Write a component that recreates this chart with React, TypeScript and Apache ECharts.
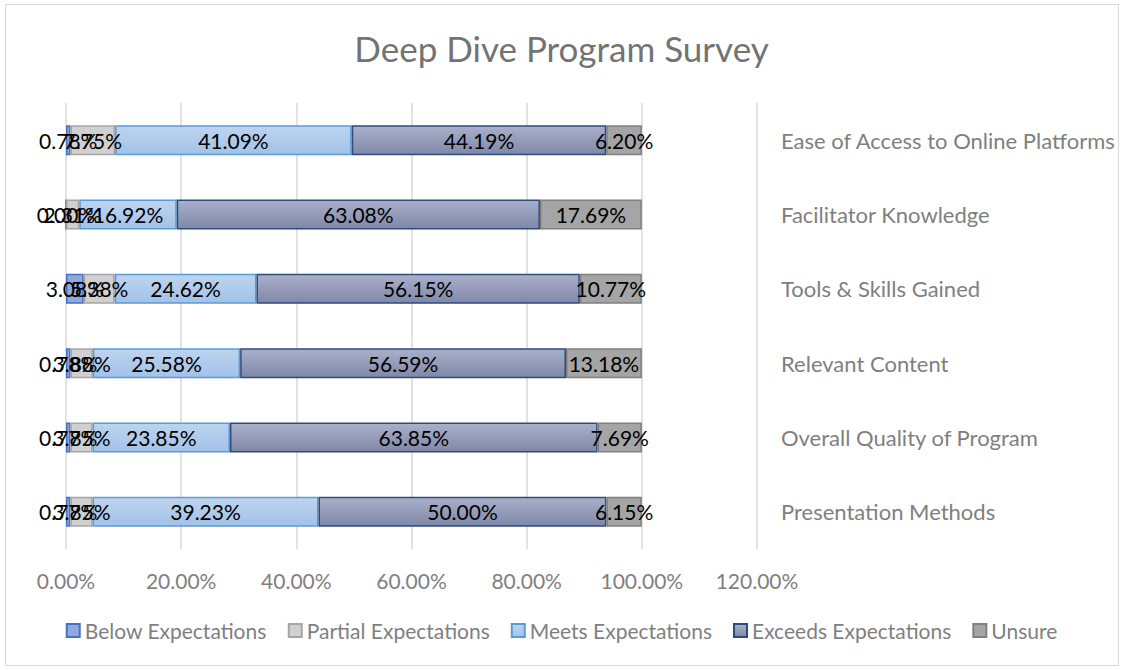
import React, { useEffect, useRef } from "react";
import * as echarts from "echarts";

// Categories listed bottom-to-top (ECharts category axis starts at the bottom)
const categories = [
  "Presentation Methods",
  "Overall Quality of Program",
  "Relevant Content",
  "Tools & Skills Gained",
  "Facilitator Knowledge",
  "Ease of Access to Online Platforms",
];

const belowExpectations = [0.77, 0.77, 0.78, 3.08, 0.0, 0.78];
const partialExpectations = [3.85, 3.85, 3.88, 5.38, 2.31, 7.75];
const meetsExpectations = [39.23, 23.85, 25.58, 24.62, 16.92, 41.09];
const exceedsExpectations = [50.0, 63.85, 56.59, 56.15, 63.08, 44.19];
const unsure = [6.15, 7.69, 13.18, 10.77, 17.69, 6.2];

const xTicks = { min: 0, max: 120, interval: 20 };

const FONT = "Lato, 'Liberation Sans', sans-serif";

export default function App() {
  const ref = useRef<HTMLDivElement>(null);

  useEffect(() => {
    if (!ref.current) return;
    const chart = echarts.init(ref.current, undefined, { renderer: "svg" });

    const grad = (top: string, bottom: string) =>
      new echarts.graphic.LinearGradient(0, 0, 0, 1, [
        { offset: 0, color: top },
        { offset: 1, color: bottom },
      ]);

    const label = {
      show: true,
      position: "inside" as const,
      color: "#000000",
      fontSize: 21,
      fontFamily: FONT,
      formatter: (p: any) => Number(p.value).toFixed(2) + "%",
    };

    const mk = (name: string, data: number[], color: any, border: string) => ({
      name,
      type: "bar" as const,
      stack: "total",
      data,
      barWidth: 30,
      label,
      itemStyle: { color, borderColor: border, borderWidth: 1.5 },
      emphasis: { disabled: true },
    });

    chart.setOption({
      animation: false,
      backgroundColor: "#ffffff",
      textStyle: { fontFamily: FONT },
      title: {
        text: "Deep Dive Program Survey",
        left: "center",
        top: 25,
        textStyle: {
          fontSize: 35,
          fontWeight: "normal",
          color: "#737373",
          fontFamily: FONT,
        },
      },
      graphic: [
        {
          type: "rect",
          shape: { x: 5.5, y: 4.5, width: 1113, height: 661 },
          style: { fill: "none", stroke: "#D9D9D9", lineWidth: 1 },
          silent: true,
        },
      ],
      legend: {
        bottom: 24,
        left: "center",
        icon: "rect",
        itemWidth: 13,
        itemHeight: 13,
        itemGap: 21,
        textStyle: { fontSize: 21, color: "#7F7F7F", fontFamily: FONT },
        data: [
          "Below Expectations",
          "Partial Expectations",
          "Meets Expectations",
          "Exceeds Expectations",
          "Unsure",
        ],
      },
      grid: { left: 66, right: 366, top: 103, bottom: 121, containLabel: false },
      xAxis: {
        type: "value",
        min: xTicks.min,
        max: xTicks.max,
        interval: xTicks.interval,
        axisLine: { show: false },
        axisTick: { show: false },
        splitLine: { lineStyle: { color: "#D9D9D9", width: 1.5 } },
        axisLabel: {
          margin: 21,
          fontSize: 21,
          color: "#7F7F7F",
          fontFamily: FONT,
          formatter: (v: number) => v.toFixed(2) + "%",
        },
      },
      yAxis: {
        type: "category",
        data: categories,
        position: "right",
        axisLine: { show: false },
        axisTick: { show: false },
        axisLabel: {
          align: "left",
          margin: 24,
          fontSize: 22,
          color: "#7F7F7F",
          fontFamily: FONT,
        },
      },
      series: [
        mk("Below Expectations", belowExpectations, "#8EA9DB", "#4472C4"),
        mk("Partial Expectations", partialExpectations, "#D0D0D0", "#A5A5A5"),
        mk("Meets Expectations", meetsExpectations, grad("#BED4EE", "#A2C2E8"), "#5B9BD5"),
        mk("Exceeds Expectations", exceedsExpectations, grad("#AAB0CA", "#7F88A8"), "#2F4B7C"),
        mk("Unsure", unsure, "#A5A5A5", "#7F7F7F"),
      ],
    });

    return () => chart.dispose();
  }, []);

  return (
    <div
      ref={ref}
      style={{ position: "fixed", left: 0, top: 0, width: 1123, height: 670 }}
    />
  );
}
